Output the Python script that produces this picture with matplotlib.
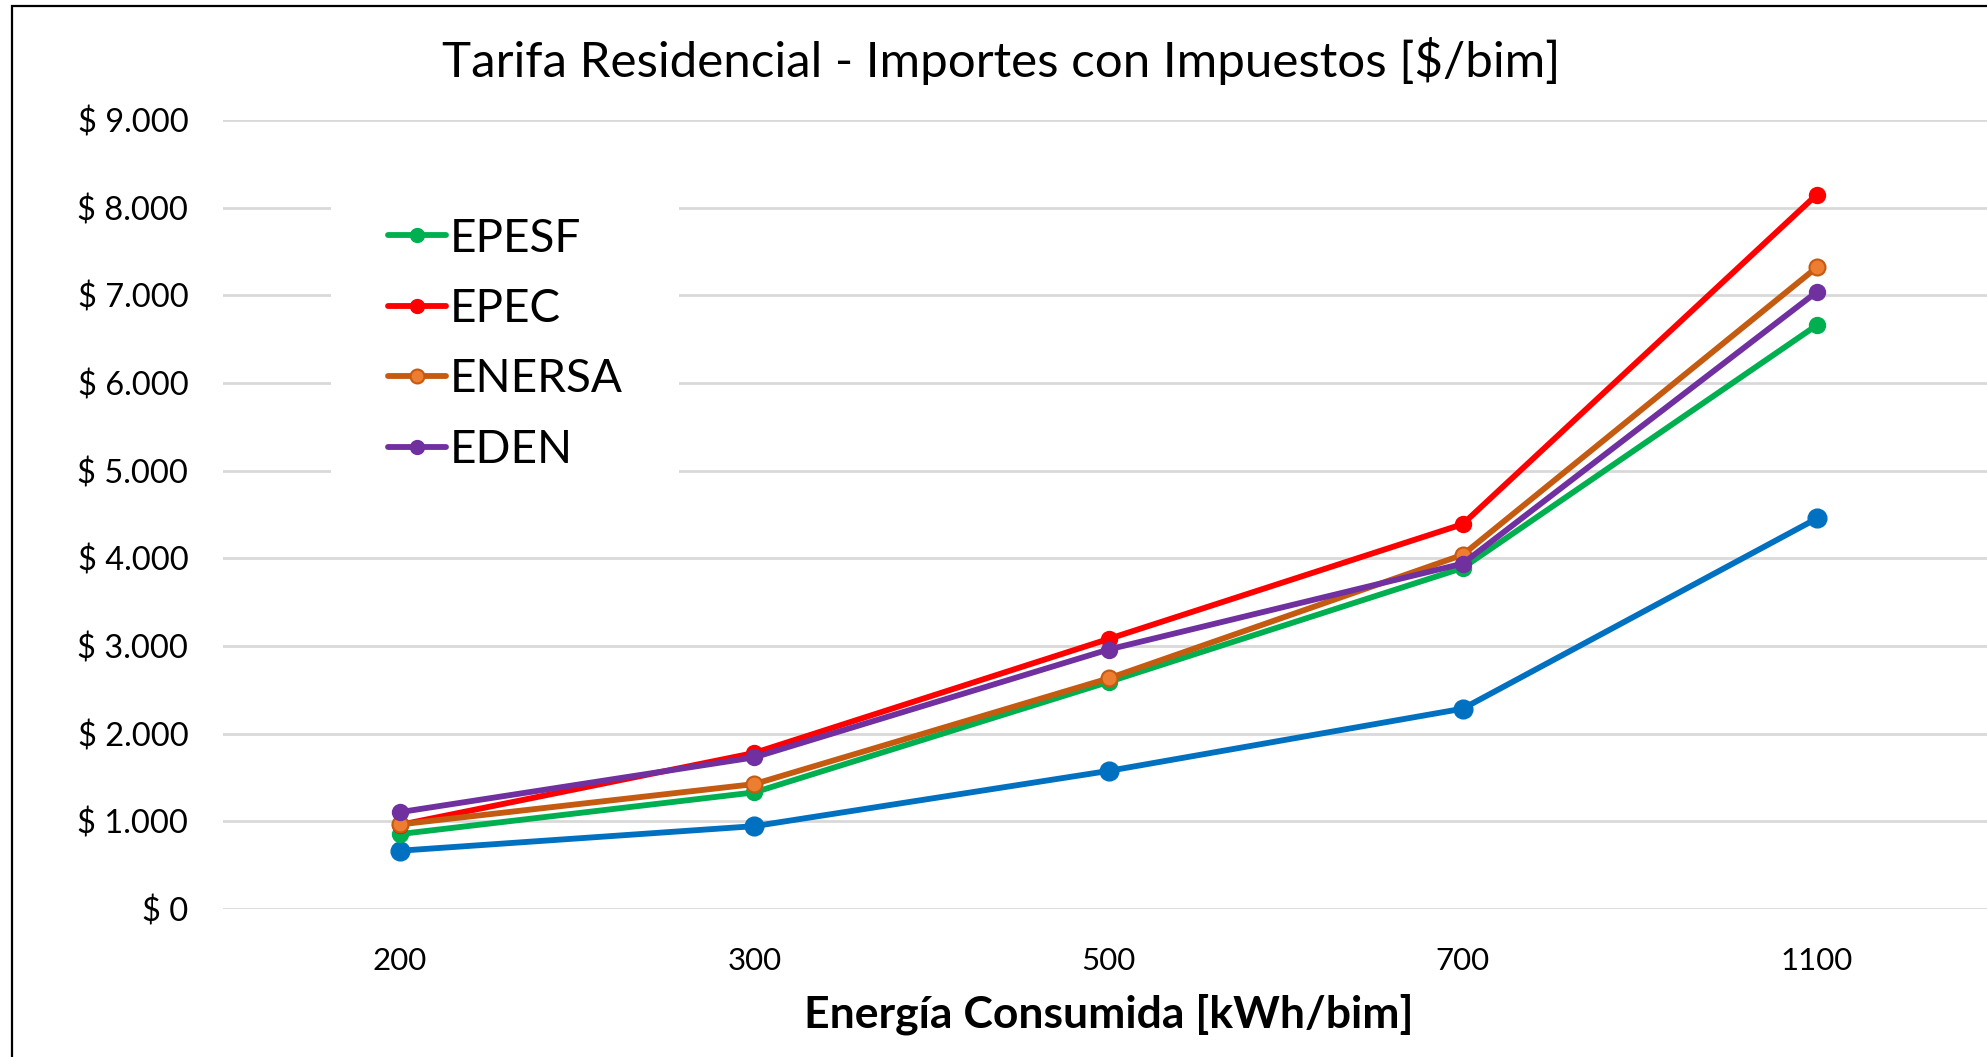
# -*- coding: utf-8 -*-
"""
Tarifa residencial - importes con impuestos por distribuidora
"""
### ---------------------- IMPORTS ---------------------- ###
import matplotlib
matplotlib.use('Agg')
import matplotlib.pyplot as plt
from matplotlib.patches import Rectangle
from matplotlib.ticker import FuncFormatter
### ----------------------------------------------------- ###

# data
consumo = ['200', '300', '500', '700', '1100']
epesf = [855, 1330, 2590, 3890, 6660]
epec = [960, 1780, 3080, 4390, 8150]
enersa = [965, 1425, 2630, 4040, 7320]
eden = [1105, 1730, 2960, 3940, 7040]
base = [665, 945, 1575, 2285, 4455]  # serie sin leyenda (azul)

y_ticks = list(range(0, 9001, 1000))

def money(v, pos):
    return '$ ' + f'{int(v):,}'.replace(',', '.')

if __name__ == '__main__':

    plt.rcParams['font.family'] = ['Lato', 'DejaVu Sans']

    fig = plt.figure(figsize=(19.87, 10.57), dpi=100)
    ax = fig.add_axes([223/1987, 148/1057, 1771/1987, 789/1057])

    x = list(range(len(consumo)))
    lw = 4.2

    # blue series first (drawn below the others)
    ax.plot(x, base, color='#0070C0', lw=lw, marker='o', ms=13.5,
            solid_capstyle='round', zorder=3)
    ax.plot(x, epesf, color='#00B050', lw=lw, marker='o', ms=11.5,
            label='EPESF', solid_capstyle='round', zorder=4)
    ax.plot(x, epec, color='#FF0000', lw=lw, marker='o', ms=11.5,
            label='EPEC', solid_capstyle='round', zorder=4)
    ax.plot(x, enersa, color='#C55A11', lw=lw, marker='o', ms=11.5,
            mfc='#ED7D31', mec='#C55A11', mew=1.5,
            label='ENERSA', solid_capstyle='round', zorder=5)
    ax.plot(x, eden, color='#7030A0', lw=lw, marker='o', ms=11.5,
            label='EDEN', solid_capstyle='round', zorder=6)

    # axes setup
    ax.set_xlim(-0.5, len(consumo) - 0.5)
    ax.set_ylim(0, 9000)
    ax.set_xticks(x)
    ax.set_xticklabels(consumo)
    ax.set_yticks(y_ticks)
    ax.yaxis.set_major_formatter(FuncFormatter(money))
    ax.tick_params(axis='y', length=0, pad=25, labelsize=23.5)
    ax.tick_params(axis='x', length=0, pad=27, labelsize=22.5)
    ax.grid(axis='y', color='#D9D9D9', lw=2)
    ax.set_axisbelow(True)
    for s in ax.spines.values():
        s.set_visible(False)

    # legend (white box over gridlines, no frame)
    leg = ax.legend(loc='upper left', bbox_to_anchor=(0.061, 0.949),
                    fontsize=33, frameon=True, fancybox=False,
                    edgecolor='none', facecolor='white', framealpha=1,
                    handlelength=1.25, handletextpad=0.08, labelspacing=0.62,
                    borderpad=1.25, borderaxespad=0)
    for h in leg.get_lines():
        h.set_markersize(10)

    # titles
    fig.text(1001/1987, 1 - 61/1057, 'Tarifa Residencial - Importes con Impuestos [$/bim]',
             ha='center', va='center', fontsize=35.5)
    fig.text(1109/1987, 1 - 1014/1057, 'Energía Consumida [kWh/bim]',
             ha='center', va='center', fontsize=32, fontweight='bold')

    # chart border
    fig.patches.append(Rectangle((12/1987, -0.05), 1.1, 1.05 - 6/1057,
                                 transform=fig.transFigure, fill=False,
                                 edgecolor='black', lw=1.6))

    fig.savefig('out.png', dpi=100, facecolor='white')
